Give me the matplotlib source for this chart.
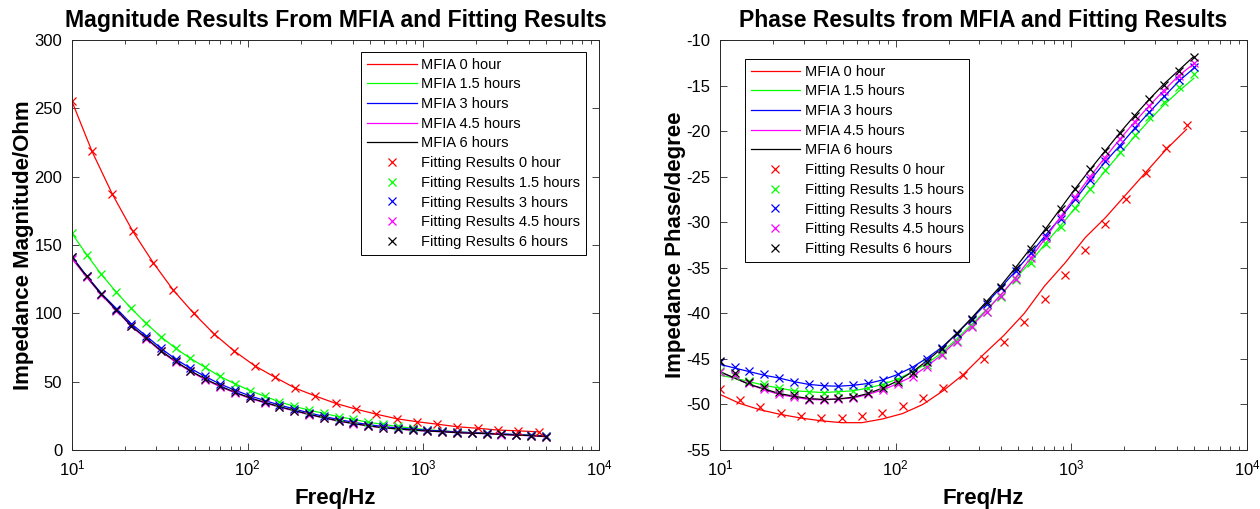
import numpy as np
import matplotlib
matplotlib.use("Agg")
import matplotlib.pyplot as plt

plt.rcParams['font.family'] = ['Liberation Sans', 'DejaVu Sans']
plt.rcParams['mathtext.fontset'] = 'custom'
plt.rcParams['mathtext.rm'] = 'Liberation Sans'
plt.rcParams['mathtext.it'] = 'Liberation Sans'
plt.rcParams['mathtext.bf'] = 'Liberation Sans:bold'
plt.rcParams['axes.unicode_minus'] = False

# frequency grids (Hz)
f_red = [10, 13.0, 17.0, 22.2, 29.0, 37.8, 49.3, 64.3, 83.9, 109.5, 142.8, 186.3,
         243, 317, 414, 540, 704, 918, 1198, 1563, 2039, 2660, 3470, 4527]
f_fit = [10, 12.1, 14.7, 17.9, 21.7, 26.4, 32.0, 38.9, 47.2, 57.3, 69.6, 84.5,
         103, 125, 151, 184, 223, 271, 329, 400, 485, 589, 715, 868,
         1054, 1280, 1554, 1887, 2291, 2782, 3378, 4101, 4980]

labels = ['0 hour', '1.5 hours', '3 hours', '4.5 hours', '6 hours']
colors = ['#ff0000', '#00ff00', '#0000ff', '#ff00ff', '#000000']

# magnitude (Ohm)
mag_0h = [255, 218.5, 187, 160, 137, 116.8, 100, 85, 72.4, 61.7, 53.3, 45.3,
          39.5, 34.1, 29.9, 26.2, 22.9, 20.7, 18.9, 17.0, 15.9, 14.6, 14.0, 13.3]
mag_15h = [158.5, 143, 128.5, 115.4, 103.7, 92.7, 83, 74.4, 67, 60.5, 53.8, 48.5,
           43.5, 39.3, 35.3, 32, 29.2, 26.8, 24.4, 22.4, 20.3, 18.8, 17.2, 16,
           14.8, 14, 13.3, 12.7, 12.2, 11.7, 11.2, 10.9, 10.6]
mag_3h = [141.5, 127.5, 114.5, 103.5, 92.5, 83.5, 74.5, 66.5, 59.8, 53.8, 48.3, 43.8,
          39.6, 36.2, 33, 30, 27.2, 24.6, 22.3, 20.3, 18.6, 17.2, 16.1, 15.2,
          14.5, 13.9, 13.2, 12.7, 12.3, 11.8, 11.3, 10.8, 10.3]
mag_45h = [140, 126.5, 113.5, 102, 90.5, 81.5, 72.3, 64.3, 57.5, 51.5, 46.3, 41.8,
           37.8, 34.5, 31.4, 28.6, 25.9, 23.4, 21.1, 19.2, 17.6, 16.2, 15.3, 14.5,
           13.8, 13.3, 12.6, 12.2, 11.9, 11.3, 10.8, 10.4, 9.7]
mag_6h = [141, 127, 114, 102.5, 91, 82, 72.8, 64.8, 58, 52, 46.8, 42.3,
          38.2, 34.9, 31.8, 28.9, 26.2, 23.6, 21.3, 19.4, 17.7, 16.3, 15.4, 14.6,
          13.9, 13.4, 12.7, 12.3, 12.0, 11.4, 10.9, 10.5, 9.8]

# phase (degree), MFIA measurement
ph_line_0h = [-48.9, -49.9, -50.6, -51.1, -51.5, -51.8, -52.0, -52.0, -51.6, -51.0, -50.0, -48.5,
              -46.7, -44.5, -42.4, -40.0, -37.0, -34.5, -31.7, -29.5, -27.0, -24.5, -22.0, -19.8]
ph_line_15h = [-46.8, -47.1, -47.5, -47.9, -48.2, -48.5, -48.6, -48.7, -48.6, -48.5, -48.2, -47.8,
               -47.2, -46.4, -45.5, -44.3, -42.8, -41.2, -39.6, -37.9, -36.1, -34.3, -32.3, -30.4,
               -28.4, -26.4, -24.4, -22.5, -20.6, -18.8, -17.1, -15.6, -14.2]
ph_line_3h = [-45.6, -46.0, -46.4, -46.8, -47.1, -47.5, -47.8, -47.95, -48.0, -47.9, -47.7, -47.3,
              -46.7, -45.9, -44.9, -43.7, -42.2, -40.6, -38.9, -37.1, -35.3, -33.4, -31.4, -29.5,
              -27.5, -25.4, -23.4, -21.6, -19.7, -17.9, -16.2, -14.5, -13.1]
ph_line_45h = [-46.5, -47.1, -47.8, -48.4, -48.9, -49.2, -49.45, -49.5, -49.4, -49.3, -48.9, -48.4,
               -47.7, -46.9, -45.8, -44.5, -43.0, -41.4, -39.7, -37.9, -36.0, -33.9, -31.7, -29.4,
               -27.2, -25.0, -22.9, -20.9, -19.0, -17.2, -15.5, -13.9, -12.6]
ph_line_6h = [-46.4, -47.1, -47.8, -48.3, -48.8, -49.1, -49.35, -49.45, -49.4, -49.2, -48.8, -48.2,
              -47.4, -46.4, -45.2, -43.8, -42.2, -40.5, -38.7, -36.9, -34.9, -32.8, -30.7, -28.5,
              -26.3, -24.2, -22.2, -20.2, -18.3, -16.5, -14.8, -13.3, -11.8]

# phase (degree), fitting results
ph_fit_0h = [-48.3, -49.5, -50.3, -50.9, -51.3, -51.5, -51.5, -51.3, -50.9, -50.2, -49.3, -48.2,
             -46.8, -45.0, -43.1, -40.9, -38.4, -35.8, -33.0, -30.2, -27.4, -24.6, -21.9, -19.35]
ph_fit_15h = [-46.3, -46.9, -47.4, -47.8, -48.2, -48.5, -48.6, -48.7, -48.6, -48.5, -48.2, -47.9,
              -47.3, -46.6, -45.7, -44.5, -43.0, -41.4, -39.8, -38.2, -36.3, -34.5, -32.4, -30.5,
              -28.4, -26.3, -24.3, -22.3, -20.4, -18.5, -16.8, -15.2, -13.7]
ph_fit_3h = [-45.3, -45.9, -46.3, -46.7, -47.1, -47.5, -47.8, -47.95, -48.0, -47.9, -47.7, -47.3,
             -46.7, -46.0, -45.0, -43.8, -42.3, -40.7, -39.0, -37.2, -35.3, -33.4, -31.5, -29.6,
             -27.5, -25.4, -23.3, -21.6, -19.7, -17.9, -16.2, -14.35, -13.0]
ph_fit_45h = [-46.4, -46.8, -47.6, -48.3, -48.8, -49.2, -49.5, -49.5, -49.4, -49.3, -48.9, -48.4,
              -47.8, -47.0, -45.9, -44.6, -43.1, -41.5, -39.9, -38.1, -36.2, -33.9, -31.7, -29.4,
              -27.2, -25.0, -22.9, -20.9, -19.0, -17.2, -15.6, -13.9, -12.5]
ph_fit_6h = [-45.2, -46.6, -47.5, -48.1, -48.6, -49.0, -49.4, -49.4, -49.3, -49.2, -48.7, -48.2,
             -47.5, -46.6, -45.3, -43.9, -42.2, -40.6, -38.8, -37.1, -35.0, -32.9, -30.7, -28.6,
             -26.3, -24.2, -22.2, -20.2, -18.3, -16.5, -14.9, -13.4, -11.9]

freqs = [f_red, f_fit, f_fit, f_fit, f_fit]
mags = [mag_0h, mag_15h, mag_3h, mag_45h, mag_6h]
ph_lines = [ph_line_0h, ph_line_15h, ph_line_3h, ph_line_45h, ph_line_6h]
ph_fits = [ph_fit_0h, ph_fit_15h, ph_fit_3h, ph_fit_45h, ph_fit_6h]

fig = plt.figure(figsize=(12.6, 5.09), dpi=100)
ax1 = fig.add_axes([72 / 1260, 59 / 509, 527 / 1260, 410 / 509])
ax2 = fig.add_axes([720 / 1260, 59 / 509, 527 / 1260, 410 / 509])

lw = 0.9
ms = 6

for f, m, c, lab in zip(freqs, mags, colors, labels):
    ax1.plot(f, m, '-', color=c, lw=lw, label='MFIA ' + lab)
for f, m, c, lab in zip(freqs, mags, colors, labels):
    ax1.plot(f, m, 'x', color=c, ms=ms, mew=0.9, linestyle='none', label='Fitting Results ' + lab)

for f, p, c, lab in zip(freqs, ph_lines, colors, labels):
    ax2.plot(f, p, '-', color=c, lw=lw, label='MFIA ' + lab)
for f, p, c, lab in zip(freqs, ph_fits, colors, labels):
    ax2.plot(f, p, 'x', color=c, ms=ms, mew=0.9, linestyle='none', label='Fitting Results ' + lab)

ax1.set_ylim(0, 300)
ax1.set_yticks(np.arange(0, 301, 50))
ax2.set_ylim(-55, -10)
ax2.set_yticks(np.arange(-55, -9, 5))

for ax in (ax1, ax2):
    ax.set_xscale('log')
    ax.set_xlim(10, 1e4)
    ax.tick_params(which='both', direction='in', top=True, right=True,
                   labelsize=12, color='#262626', width=0.6)
    ax.tick_params(which='major', length=5)
    ax.tick_params(which='minor', length=3)
    ax.tick_params(axis='x', pad=6)
    ax.tick_params(axis='y', pad=7)
    for s in ax.spines.values():
        s.set_linewidth(0.7)
        s.set_color('#262626')
    ax.set_xlabel('Freq/Hz', fontsize=16, fontweight='bold', labelpad=7)

ax1.set_ylabel('Impedance Magnitude/Ohm', fontsize=16, fontweight='bold', labelpad=0)
ax2.set_ylabel('Impedance Phase/degree', fontsize=16, fontweight='bold', labelpad=0)
ax1.set_title('Magnitude Results From MFIA and Fitting Results', fontsize=16.6, fontweight='bold', pad=9)
ax2.set_title('Phase Results from MFIA and Fitting Results', fontsize=16.6, fontweight='bold', pad=9)

leg_kw = dict(fontsize=10.5, frameon=True, fancybox=False, framealpha=1, edgecolor='black',
              handlelength=3.4, handletextpad=0.3, labelspacing=0.39, borderpad=0.4,
              borderaxespad=0, numpoints=1)
l1 = ax1.legend(loc='upper right', bbox_to_anchor=(0.975, 0.971), **leg_kw)
l2 = ax2.legend(loc='upper left', bbox_to_anchor=(0.047, 0.954), **leg_kw)
for l in (l1, l2):
    l.get_frame().set_linewidth(0.7)

fig.savefig('out.png', dpi=100, facecolor='white')
